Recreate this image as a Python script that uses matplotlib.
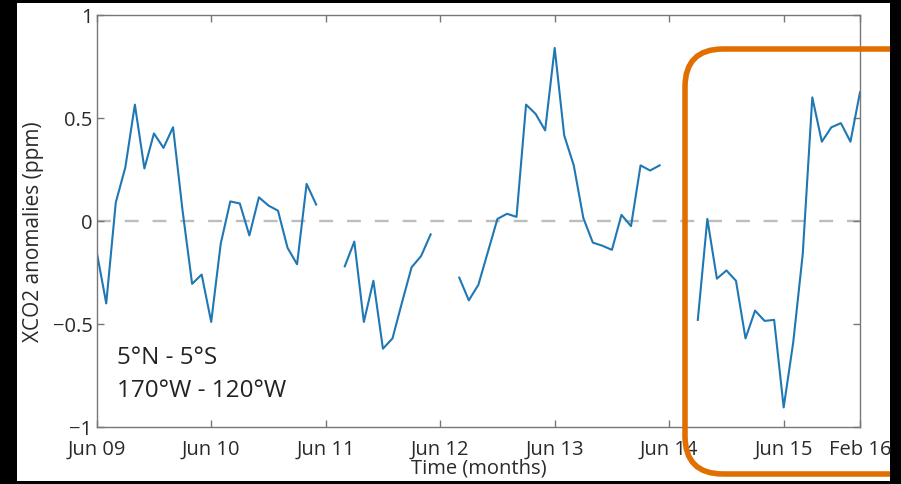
import numpy as np
import matplotlib
matplotlib.use("Agg")
import matplotlib.pyplot as plt
from matplotlib.patches import Rectangle, FancyBboxPatch
from matplotlib.transforms import IdentityTransform

plt.rcParams["font.family"] = ["Open Sans", "DejaVu Sans"]
plt.rcParams["lines.scale_dashes"] = False

nan = np.nan
# Monthly XCO2 anomalies (ppm), first value = Jun 2009; NaN = no retrieval
anomaly = [
    -0.15, -0.40, 0.09, 0.26, 0.565, 0.255, 0.425, 0.355, 0.455, 0.05,
    -0.305, -0.26, -0.49, -0.11, 0.095, 0.085, -0.07, 0.115, 0.075, 0.05,
    -0.13, -0.21, 0.18, 0.08,
    nan, nan,
    -0.22, -0.10, -0.49, -0.29, -0.62, -0.57, -0.395, -0.225, -0.17, -0.065,
    nan, nan,
    -0.275, -0.385, -0.31, -0.15, 0.01, 0.035, 0.02, 0.565, 0.52, 0.44,
    0.84, 0.415, 0.27, 0.015, -0.105, -0.12, -0.14, 0.03, -0.025, 0.27,
    0.245, 0.27,
    nan, nan, nan,
    -0.48, 0.01, -0.28, -0.24, -0.29, -0.57, -0.435, -0.485, -0.48, -0.905,
    -0.59, -0.16, 0.60, 0.385, 0.455, 0.475, 0.385, 0.625,
]
tick_months = [0, 12, 24, 36, 48, 60, 72, 80]
tick_labels = ["Jun 09", "Jun 10", "Jun 11", "Jun 12", "Jun 13", "Jun 14", "Jun 15", "Feb 16"]
y_ticks = [-1, -0.5, 0, 0.5, 1]
y_tick_labels = ["\u22121", "\u22120.5", "0", "0.5", "1"]

W, H = 901, 485
fig = plt.figure(figsize=(W / 100, H / 100), dpi=100, facecolor="black")

# white page inside the black frame
page = Rectangle((17 / W, 1 - 482 / H), (890 - 17) / W, (482 - 4) / H,
                 transform=fig.transFigure, facecolor="white", edgecolor="none", zorder=-1)
fig.patches.append(page)

ax = fig.add_axes([96.7 / W, 1 - 428 / H, (860 - 96.7) / W, (428 - 16) / H])
ax.set_facecolor("none")

months = np.arange(len(anomaly))
ax.axhline(0, color="#bdbdbd", lw=1.7, dashes=(10, 10), zorder=1)
ax.plot(months, anomaly, color="#1f77b4", lw=1.5, zorder=2)

ax.set_xlim(tick_months[0], tick_months[-1])
ax.set_ylim(-1, 1)
ax.set_xticks(tick_months)
ax.set_xticklabels(tick_labels)
ax.set_yticks(y_ticks)
ax.set_yticklabels(y_tick_labels)

spine_c = "#777777"
for s in ax.spines.values():
    s.set_color(spine_c)
    s.set_linewidth(1.0)
ax.tick_params(direction="in", length=5, width=1.0, color=spine_c,
               top=True, right=True, labelsize=14.5, labelcolor="#2a2a2a")
ax.tick_params(axis="x", pad=8.5)
ax.tick_params(axis="y", pad=3)

ax.set_xlabel("Time (months)", fontsize=14.5, color="#2a2a2a", labelpad=0)
ax.xaxis.set_label_coords(0.5, -0.075, transform=ax.transAxes)
ax.set_ylabel("XCO2 anomalies (ppm)", fontsize=15, color="#2a2a2a")
ax.yaxis.set_label_coords(-0.069, 0.476, transform=ax.transAxes)

ax.text(0.027, 0.155, "5\u00b0N - 5\u00b0S", transform=ax.transAxes,
        fontsize=17.5, color="#222222", va="baseline", ha="left")
ax.text(0.027, 0.075, "170\u00b0W - 120\u00b0W", transform=ax.transAxes,
        fontsize=17.5, color="#222222", va="baseline", ha="left")

# highlight box around the 2014-2016 period, clipped at the frame
hl = FancyBboxPatch((685 + 38, H - 475 + 38), 300 - 76, (475 - 50) - 76,
                    boxstyle="round,pad=38", transform=IdentityTransform(),
                    facecolor="none", edgecolor="#e06f00", lw=4.0, zorder=5)
fig.patches.append(hl)
hl.set_clip_path(page)

fig.savefig("out.png", dpi=100, facecolor="black")
